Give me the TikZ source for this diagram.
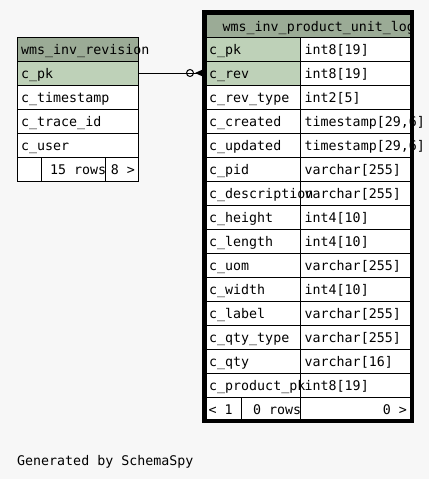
\documentclass[tikz,border=0pt]{standalone}
\usepackage{fontspec}
\setmonofont{DejaVu Sans Mono}
\usetikzlibrary{arrows.meta, calc, positioning}
\definecolor{headbg}{HTML}{9BAB96}
\definecolor{keybg}{HTML}{BED1B8}
\definecolor{pagebg}{HTML}{F7F7F7}
\tikzset{
  cell/.style={draw=black, line width=1pt, fill=white, rectangle, inner sep=0pt, outer sep=0pt, anchor=north west, minimum height=24pt},
  headcell/.style={cell, fill=headbg},
  txt/.style={anchor=base west, inner sep=0pt, font=\ttfamily\fontsize{13.3}{16}\selectfont},
  rtxt/.style={txt, anchor=base east},
}

\begin{document}
\begin{tikzpicture}[x=1pt, y=-1pt]
             \fill[pagebg] (0,0) rectangle (429,479);
             \useasboundingbox (0,0) rectangle (429,479);
             % wms_inv_revision
             \node[headcell, minimum width=121pt] (rev) at (17,37) {};
             \node[txt] at ($(rev.west)+(4,5.5)$) {wms\_inv\_revision};
             \foreach \col/\bg [count=\i] in {c\_pk/keybg, c\_timestamp/white, c\_trace\_id/white, c\_user/white} {
               \node[cell, fill=\bg, minimum width=121pt] (rev\i) at (17,{37+24*\i}) {};
               \node[txt] at ($(rev\i.west)+(4,5.5)$) {\col};
             }
             \node[cell, minimum width=24.7pt] (revf1) at (17,157) {};
             \node[cell, minimum width=63.6pt] (revf2) at (41.7,157) {};
             \node[cell, minimum width=32.7pt] (revf3) at (105.3,157) {};
             \node[txt] at ($(revf2.west)+(8.3,5.5)$) {15 rows};
             \node[rtxt] at ($(revf3.east)+(-3,5.5)$) {8 >};
             % wms_inv_product_unit_log
             \node[headcell, minimum width=204pt, minimum height=23pt] (prod) at (206,14) {};
             \begin{scope}
               \clip (206,14) rectangle (410,37);
               \node[txt] at ($(prod.west)+(16.5,6)$) {wms\_inv\_product\_unit\_log};
             \end{scope}
             \foreach \col/\typ/\bg [count=\i] in {c\_pk/int8[19]/keybg, c\_rev/int8[19]/keybg, c\_rev\_type/int2[5]/white,
                 c\_created/{timestamp[29,6]}/white, c\_updated/{timestamp[29,6]}/white, c\_pid/varchar[255]/white,
                 c\_description/varchar[255]/white, c\_height/int4[10]/white, c\_length/int4[10]/white,
                 c\_uom/varchar[255]/white, c\_width/int4[10]/white, c\_label/varchar[255]/white,
                 c\_qty\_type/varchar[255]/white, c\_qty/varchar[16]/white, c\_product\_pk/int8[19]/white} {
               \node[cell, fill=\bg, minimum width=94pt] (p\i) at (206,{13+24*\i}) {};
               \node[cell, minimum width=110pt] (t\i) at (300,{13+24*\i}) {};
             }
             \foreach \col/\typ [count=\i] in {c\_pk/int8[19], c\_rev/int8[19], c\_rev\_type/int2[5],
                 c\_created/{timestamp[29,6]}, c\_updated/{timestamp[29,6]}, c\_pid/varchar[255],
                 c\_description/varchar[255], c\_height/int4[10], c\_length/int4[10],
                 c\_uom/varchar[255], c\_width/int4[10], c\_label/varchar[255],
                 c\_qty\_type/varchar[255], c\_qty/varchar[16], c\_product\_pk/int8[19]} {
               \node[txt] at ($(p\i.west)+(3,5.5)$) {\col};
               \node[txt] at ($(t\i.west)+(4.5,5.5)$) {\typ};
             }
             \node[cell, minimum width=35pt] (pf1) at (206,397) {};
             \node[cell, minimum width=59pt] (pf2) at (241,397) {};
             \node[cell, minimum width=110pt] (pf3) at (300,397) {};
             \node[txt] at ($(pf1.west)+(2.5,5.5)$) {< 1};
             \node[txt] at ($(pf2.west)+(12,5.5)$) {0 rows};
             \node[rtxt] at ($(pf3.east)+(-3,5.5)$) {0 >};
             \draw[line width=4pt] (204,12) rectangle (411.7,421.3);
             % relation
             \draw[line width=1pt, shorten >=3pt, -{Circle[open, length=8pt, width=8pt, sep=1pt] Triangle[reversed, length=8pt, width=7pt]}] (rev1.east) -- (p2.west);
             \node[txt] (credit) at (17,465.5) {Generated by SchemaSpy};
         \end{tikzpicture}
\end{document}
